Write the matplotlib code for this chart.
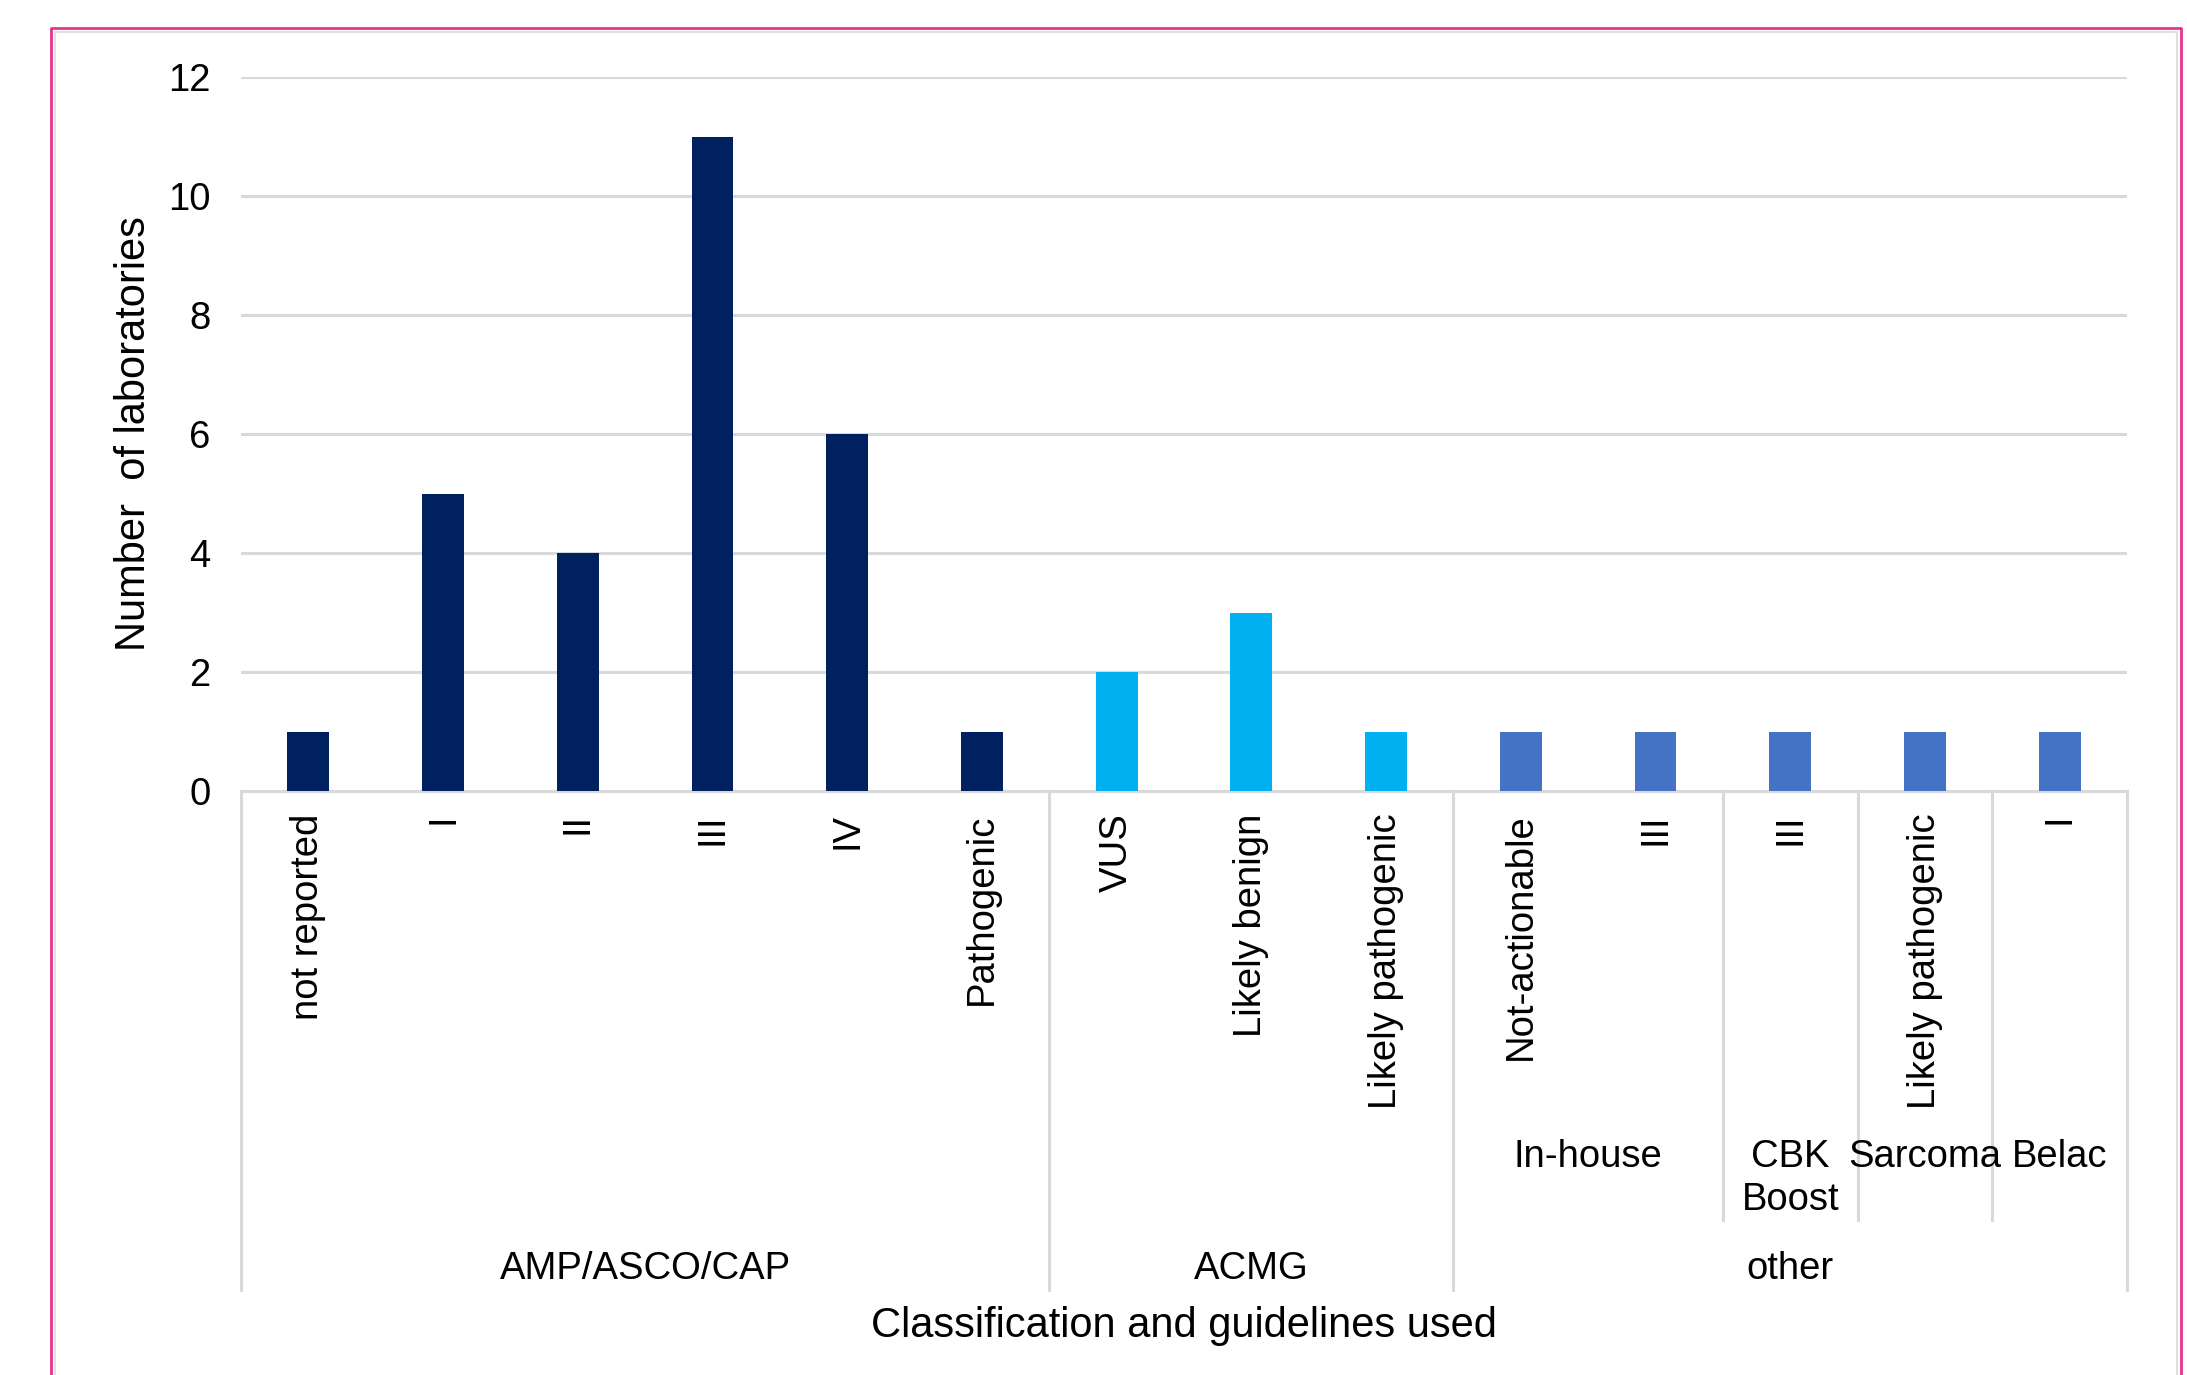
import matplotlib.pyplot as plt
from matplotlib.lines import Line2D
from matplotlib.transforms import blended_transform_factory

plt.rcParams['font.family'] = ['Liberation Sans', 'DejaVu Sans']

# datos
categories = ['not reported', 'I', 'II', 'III', 'IV', 'Pathogenic',
              'VUS', 'Likely benign', 'Likely pathogenic',
              'Not-actionable', 'III', 'III', 'Likely pathogenic', 'I']
values = [1, 5, 4, 11, 6, 1, 2, 3, 1, 1, 1, 1, 1, 1]
guidelines = ['AMP/ASCO/CAP', 'ACMG', 'other']
guideline_counts = [6, 3, 5]
guideline_colors = ['#002060', '#00B0F0', '#4472C4']
other_subgroups = ['In-house', 'CBK\nBoost', 'Sarcoma', 'Belac']
other_sub_counts = [2, 1, 1, 1]
yticks = [0, 2, 4, 6, 8, 10, 12]

W, H = 2187, 1375
fs = 27.5
fs_title = 30
fig = plt.figure(figsize=(W / 100, H / 100), dpi=100)
ax = fig.add_axes([241 / W, 1 - 791 / H, (2127 - 241) / W, (791 - 77) / H])

# colores por grupo
bar_colors = []
for g, n in zip(guideline_colors, guideline_counts):
    bar_colors += [g] * n

x = list(range(len(categories)))
ax.bar(x, values, width=0.31, color=bar_colors, zorder=3)

ax.set_xlim(-0.5, len(categories) - 0.5)
ax.set_ylim(0, 12)
ax.set_yticks(yticks)
ax.tick_params(axis='y', length=0, pad=22, labelsize=fs)
ax.set_xticks(x)
ax.set_xticklabels(categories, rotation=90, fontsize=fs)
ax.tick_params(axis='x', length=0, pad=16)
ax.grid(axis='y', color='#D9D9D9', linewidth=2.2, zorder=0)
ax.set_axisbelow(True)
for s in ['left', 'right', 'top']:
    ax.spines[s].set_visible(False)
ax.spines['bottom'].set_color('#D9D9D9')
ax.spines['bottom'].set_linewidth(2.2)

ax.set_ylabel('Number  of laboratories', fontsize=fs_title, labelpad=10)

# lineas separadoras de categorias multinivel
tr = blended_transform_factory(ax.transData, fig.transFigure)
y_axis = 1 - 791 / H
y_group = 1 - 1290 / H
y_sub = 1 - 1220 / H

edges = [-0.5]
for n in guideline_counts:
    edges.append(edges[-1] + n)
for e in edges:
    ax.plot([e, e], [y_axis, y_group], transform=tr, color='#D9D9D9',
            lw=2.2, clip_on=False)

start_other = edges[2]
sub_edges = [start_other]
for n in other_sub_counts:
    sub_edges.append(sub_edges[-1] + n)
for e in sub_edges[1:-1]:
    ax.plot([e, e], [y_axis, y_sub], transform=tr, color='#D9D9D9',
            lw=2.2, clip_on=False)

# etiquetas de subgrupo
for i, lab in enumerate(other_subgroups):
    cx = (sub_edges[i] + sub_edges[i + 1]) / 2
    ax.text(cx, 1 - 1139 / H, lab, transform=tr, ha='center', va='top',
            fontsize=fs, linespacing=1.25)

# etiquetas de grupo
for i, lab in enumerate(guidelines):
    cx = (edges[i] + edges[i + 1]) / 2
    ax.text(cx, 1 - 1269 / H, lab, transform=tr, ha='center', va='center',
            fontsize=fs)

fig.text(1184 / W, 1 - 1326 / H, 'Classification and guidelines used',
         ha='center', va='center', fontsize=fs_title)

# borde rosa del grafico
bx0, bx1, by0 = 51 / W, 2181 / W, 1 - 28 / H
fig.add_artist(Line2D([bx0, bx0, bx1, bx1], [0, by0, by0, 0],
                      transform=fig.transFigure, color='#E8338B', lw=2))
gx0, gx1, gy0 = 55 / W, 2177 / W, 1 - 32 / H
fig.add_artist(Line2D([gx0, gx0, gx1, gx1], [0, gy0, gy0, 0],
                      transform=fig.transFigure, color='#E0E0E0', lw=1.5))

fig.savefig('out.png', dpi=100)
